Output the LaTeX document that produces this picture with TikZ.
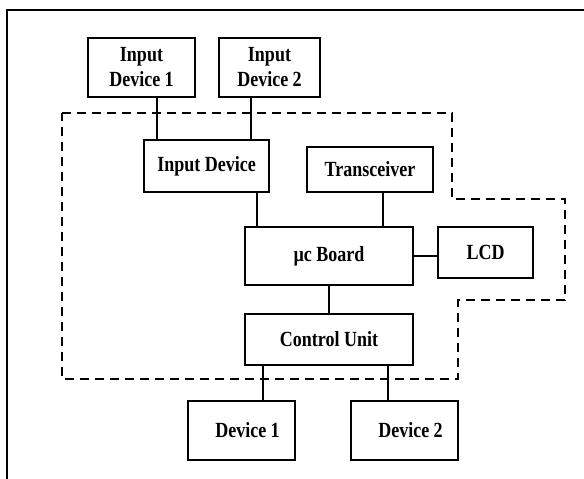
\documentclass[tikz,border=0pt]{standalone}
\usepackage{fontspec}
\usepackage{graphicx}
\setmainfont{Liberation Serif}
\newcommand{\tall}[1]{\scalebox{1}[1.2]{#1}}
\begin{document}
\begin{tikzpicture}[x=1pt,y=-1pt,
 block/.style={draw,line width=1.8pt,fill=white,inner sep=0pt,align=center,
   font=\bfseries\fontsize{18}{25}\selectfont},
 link/.style={line width=1.8pt},
 zone/.style={line width=2.6pt,dash pattern=on 9pt off 6pt}]
 \useasboundingbox (0,0) rectangle (584,479);
 \draw[line width=1.6pt] (7,479) -- (7,10) -- (584,10);
 % system boundary
 \draw[zone] (62,113) -- (452,113) -- (452,199) -- (565,199) -- (565,300)
   -- (458,300) -- (458,379) -- (62,379) -- cycle;
 \node[block,minimum width=107,minimum height=59] (id1) at (141.5,67.5) {\tall{Input}\\\tall{Device 1}};
 \node[block,minimum width=101,minimum height=59] (id2) at (269.5,67.5) {\tall{Input}\\\tall{Device 2}};
 \node[block,minimum width=125,minimum height=52] (ind) at (206.5,166) {\tall{Input Device}};
 \node[block,minimum width=126,minimum height=45] (trx) at (370,169.5) {\tall{Transceiver}};
 \node[block,minimum width=168,minimum height=58] (mcb) at (329,256) {\tall{µc Board}};
 \node[block,minimum width=95,minimum height=51] (lcd) at (485.5,252.5) {\tall{LCD}};
 \node[block,minimum width=168,minimum height=51] (ctl) at (329,339.5) {\tall{Control Unit}};
 \node[block,minimum width=107,minimum height=59] (dev1) at (241.5,430.5) {\hspace{12pt}\tall{Device 1}};
 \node[block,minimum width=107,minimum height=59] (dev2) at (404.5,430.5) {\hspace{12pt}\tall{Device 2}};
 % connector positions
 \coordinate (x1) at (157,0);
 \coordinate (x2) at (251,0);
 \coordinate (x3) at (257,0);
 \coordinate (x4) at (383,0);
 \coordinate (x5) at (263,0);
 \coordinate (x6) at (388,0);
 \draw[link] (id1.south -| x1) -- (ind.north -| x1);
 \draw[link] (id2.south -| x2) -- (ind.north -| x2);
 \draw[link] (ind.south -| x3) -- (mcb.north -| x3);
 \draw[link] (trx.south -| x4) -- (mcb.north -| x4);
 \draw[link] (mcb.east) -- (mcb.east -| lcd.west);
 \draw[link] (mcb.south) -- (ctl.north);
 \draw[link] (ctl.south -| x5) -- (dev1.north -| x5);
 \draw[link] (ctl.south -| x6) -- (dev2.north -| x6);
\end{tikzpicture}
\end{document}
